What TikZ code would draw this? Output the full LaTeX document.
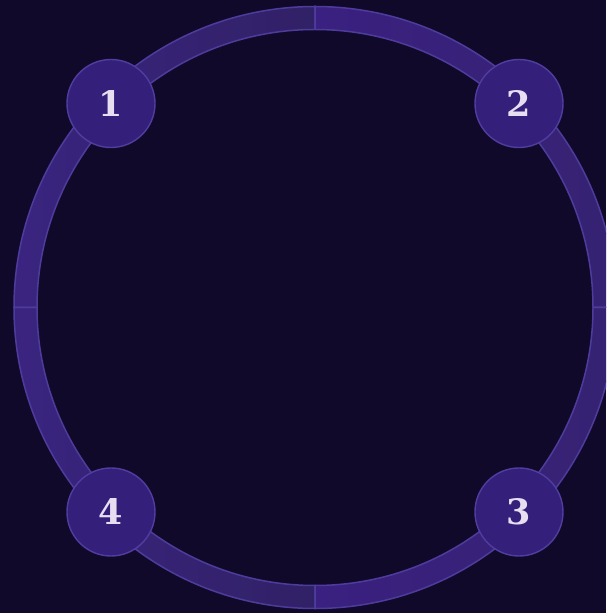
\documentclass[tikz,border=0pt]{standalone}
\usepackage{fontspec}
\newfontfamily\numfont{DejaVu Serif}
\definecolor{bg}{HTML}{10092A}
\definecolor{segL}{HTML}{3A2480}
\definecolor{segD}{HTML}{312166}
\definecolor{segRL}{HTML}{3A2080}
\definecolor{segRD}{HTML}{362272}
\definecolor{edge}{HTML}{4D3C9C}
\definecolor{nodefill}{HTML}{34207A}
\definecolor{nodeedge}{HTML}{4F3DA0}
\definecolor{numtxt}{HTML}{E8DEF2}
\tikzset{
  numnode/.style={circle, minimum size=88pt, inner sep=0pt, fill=nodefill, draw=nodeedge, line width=1.4pt,
    text=numtxt, font=\numfont\bfseries\fontsize{35}{35}\selectfont},
  segedge/.style={draw=edge, line width=1.5pt}
}
\begin{document}
\begin{tikzpicture}[x=1pt,y=1pt]
\fill[bg] (0,0) rectangle (606,613);
\useasboundingbox (0,0) rectangle (606,613);
\clip (0,0) rectangle (606,613);
\coordinate (c) at (315,305.5);
\begin{scope}[shift={(315,305.5)}]
  % top-left
  \shade[left color=segL, right color=segD] (90:301) arc[start angle=90, end angle=180, radius=301] -- (180:278) arc[start angle=180, end angle=90, radius=278] -- cycle;
  % bottom-left
  \shade[left color=segL, right color=segD] (180:301) arc[start angle=180, end angle=270, radius=301] -- (270:278) arc[start angle=270, end angle=180, radius=278] -- cycle;
  % top-right
  \shade[left color=segRL, right color=segRD] (0:301) arc[start angle=0, end angle=90, radius=301] -- (90:278) arc[start angle=90, end angle=0, radius=278] -- cycle;
  % bottom-right
  \shade[left color=segRL, right color=segRD] (270:301) arc[start angle=270, end angle=360, radius=301] -- (0:278) arc[start angle=0, end angle=-90, radius=278] -- cycle;
  \foreach \a in {0,90,180,270} {
    \path[segedge] (\a:301) arc[start angle=\a, end angle=\a+90, radius=301] -- (\a+90:278) arc[start angle=\a+90, end angle=\a, radius=278] -- cycle;
  }
\end{scope}
\node[numnode] (n1) at (111,509.5) {1};
\node[numnode] (n2) at (519,509.5) {2};
\node[numnode] (n3) at (519,101) {3};
\node[numnode] (n4) at (111,101) {4};
\end{tikzpicture}
\end{document}
